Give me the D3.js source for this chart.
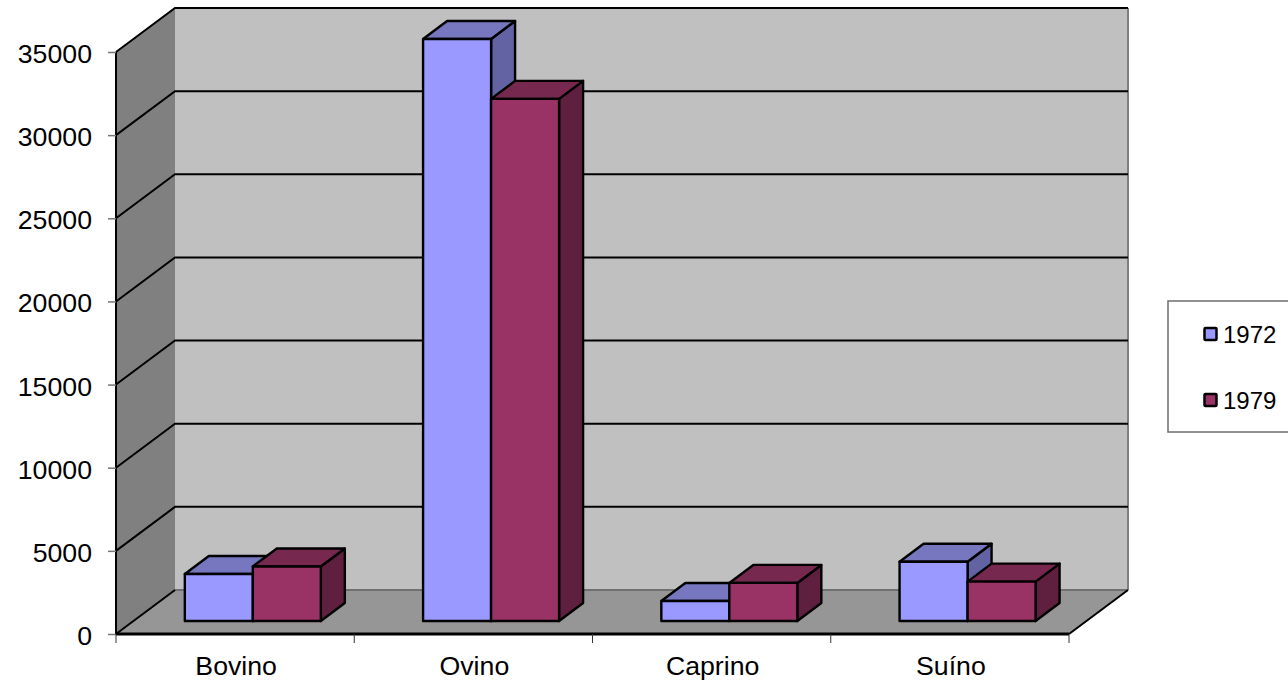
<!DOCTYPE html>
<html>
<head>
<meta charset="utf-8">
<script src="https://cdn.jsdelivr.net/npm/d3@7"></script>
<style>
  html, body { margin: 0; padding: 0; background: #fff; }
  svg { display: block; }
  text { font-family: "Liberation Sans", Arial, sans-serif; fill: #000; }
</style>
</head>
<body>
<script>
let categories = ["Bovino", "Ovino", "Caprino", "Suíno"]
let years = ["1972", "1979"]
let values1972 = [2830, 35000, 1200, 3560]
let values1979 = [3280, 31400, 2290, 2370]
let yTicks = [0, 5000, 10000, 15000, 20000, 25000, 30000, 35000]

let width = 1288, height = 681

// floor depth of the box, and how far into it the bars stand
let depthX = 59, depthY = -44
let barShiftX = 17.7, barShiftY = -13
let barDepthX = 24, barDepthY = -18

let svg = d3.select("body")
    .append("svg")
    .attr("width", width)
    .attr("height", height)

let x = d3.scaleBand().domain(categories).range([116, 1069])
let series = d3.scaleBand().domain(years).range([0, 136])
let y = d3.scaleLinear().domain([0, 35000]).range([634, 52])

let colors = {
    "1972": {front: "#9999ff", top: "#7777c0", side: "#6363a3"},
    "1979": {front: "#993366", top: "#77284f", side: "#5f2040"}
}

let poly = pts => pts.map(p => p.join(",")).join(" ")

// walls and floor
let x0 = x.range()[0], x1 = x.range()[1]
let yBase = y(0), yTop = y(35000)

svg.append("polygon")
    .attr("points", poly([[x0 + depthX, yTop + depthY], [x1 + depthX, yTop + depthY], [x1 + depthX, yBase + depthY], [x0 + depthX, yBase + depthY]]))
    .attr("fill", "#c0c0c0")
svg.append("polygon")
    .attr("points", poly([[x0, yTop], [x0 + depthX, yTop + depthY], [x0 + depthX, yBase + depthY], [x0, yBase]]))
    .attr("fill", "#808080")
svg.append("polygon")
    .attr("points", poly([[x0, yBase], [x1, yBase], [x1 + depthX, yBase + depthY], [x0 + depthX, yBase + depthY]]))
    .attr("fill", "#969696")

// back wall edges
svg.append("line")
    .attr("x1", x1 + depthX).attr("x2", x1 + depthX)
    .attr("y1", yTop + depthY).attr("y2", yBase + depthY)
    .attr("stroke", "#808080").attr("stroke-width", 2)
svg.append("line")
    .attr("x1", x0 + depthX).attr("x2", x1 + depthX)
    .attr("y1", yBase + depthY).attr("y2", yBase + depthY)
    .attr("stroke", "#707070").attr("stroke-width", 2)

// gridlines run along the side wall and then across the back
svg.selectAll("polyline.grid")
    .data(yTicks)
    .enter()
    .append("polyline")
    .attr("class", "grid")
    .attr("points", d => poly([[x0, y(d)], [x0 + depthX, y(d) + depthY], [x1 + depthX, y(d) + depthY]]))
    .attr("fill", "none")
    .attr("stroke", d => d === 0 ? "none" : "#000")
    .attr("stroke-width", 2)

// the floor's left and right edges
svg.selectAll("line.floorEdge")
    .data([x0, x1])
    .enter()
    .append("line")
    .attr("class", "floorEdge")
    .attr("x1", d => d).attr("y1", yBase)
    .attr("x2", d => d + depthX).attr("y2", yBase + depthY)
    .attr("stroke", "#000").attr("stroke-width", 2)

// bars, 1972 first so the 1979 block overlaps it
let bars = []
categories.forEach((c, i) => {
    bars.push({cat: c, year: "1972", value: values1972[i]})
    bars.push({cat: c, year: "1979", value: values1979[i]})
})

let barGroups = svg.selectAll("g.bar")
    .data(bars)
    .enter()
    .append("g")
    .attr("class", "bar")
    .attr("stroke", "#000")
    .attr("stroke-width", 2.4)
    .attr("stroke-linejoin", "round")

function barBox(d) {
    let left = x(d.cat) + (x.bandwidth() - series.range()[1]) / 2 + series(d.year) + barShiftX
    return {
        left: left,
        right: left + series.bandwidth(),
        top: y(d.value) + barShiftY,
        bottom: y(0) + barShiftY
    }
}

barGroups.append("polygon")
    .attr("fill", d => colors[d.year].side)
    .attr("points", d => {
        let b = barBox(d)
        return poly([[b.right, b.top], [b.right + barDepthX, b.top + barDepthY], [b.right + barDepthX, b.bottom + barDepthY], [b.right, b.bottom]])
    })
barGroups.append("polygon")
    .attr("fill", d => colors[d.year].top)
    .attr("points", d => {
        let b = barBox(d)
        return poly([[b.left, b.top], [b.left + barDepthX, b.top + barDepthY], [b.right + barDepthX, b.top + barDepthY], [b.right, b.top]])
    })
barGroups.append("polygon")
    .attr("fill", d => colors[d.year].front)
    .attr("points", d => {
        let b = barBox(d)
        return poly([[b.left, b.top], [b.right, b.top], [b.right, b.bottom], [b.left, b.bottom]])
    })

// axes
let yAxis = d3.axisLeft(y).tickValues(yTicks).tickSize(8).tickPadding(16).tickFormat(d3.format("d"))
let yG = svg.append("g").attr("transform", `translate(${x0},0)`).call(yAxis)
yG.select(".domain").attr("stroke", "#000").attr("stroke-width", 2)
    .attr("d", `M0,${yTop}V${yBase}`)
yG.selectAll(".tick line").attr("stroke", "#777").attr("stroke-width", 1.5)
yG.selectAll("text")
    .attr("font-size", 26.7)
    .attr("font-family", "Liberation Sans")
    .attr("dy", 10.5)

let xAxis = d3.axisBottom(x).tickSize(0).tickPadding(20)
let xG = svg.append("g").attr("transform", `translate(0,${yBase})`).call(xAxis)
xG.select(".domain").attr("stroke", "#000").attr("stroke-width", 3).attr("d", `M${x0},0H${x1}`)
xG.selectAll("text")
    .attr("font-size", 26.7)
    .attr("font-family", "Liberation Sans")
    .attr("x", 1)
    .attr("y", 41)
    .attr("dy", 0)

// category separators below the floor
svg.selectAll("line.sep")
    .data(categories.concat("end"))
    .enter()
    .append("line")
    .attr("class", "sep")
    .attr("x1", (d, i) => x0 + i * x.step())
    .attr("x2", (d, i) => x0 + i * x.step())
    .attr("y1", yBase)
    .attr("y2", yBase + 9)
    .attr("stroke", "#333")
    .attr("stroke-width", 1)

// legend
svg.append("rect")
    .attr("x", 1168).attr("y", 301)
    .attr("width", 125).attr("height", 131)
    .attr("fill", "#fff")
    .attr("stroke", "#6e6e6e").attr("stroke-width", 1.5)

let legendY = d3.scalePoint().domain(years).range([334, 400])
let legend = svg.selectAll("g.legend")
    .data(years)
    .enter()
    .append("g")
    .attr("class", "legend")
    .attr("transform", d => `translate(0,${legendY(d)})`)
legend.append("rect")
    .attr("x", 1204.5).attr("y", -6)
    .attr("width", 12).attr("height", 12)
    .attr("rx", 1)
    .attr("fill", d => colors[d].front)
    .attr("stroke", "#000").attr("stroke-width", 2.5)
legend.append("text")
    .attr("x", 1223)
    .attr("y", 8.5)
    .attr("font-size", 24)
    .text(d => d)
</script>
</body>
</html>
